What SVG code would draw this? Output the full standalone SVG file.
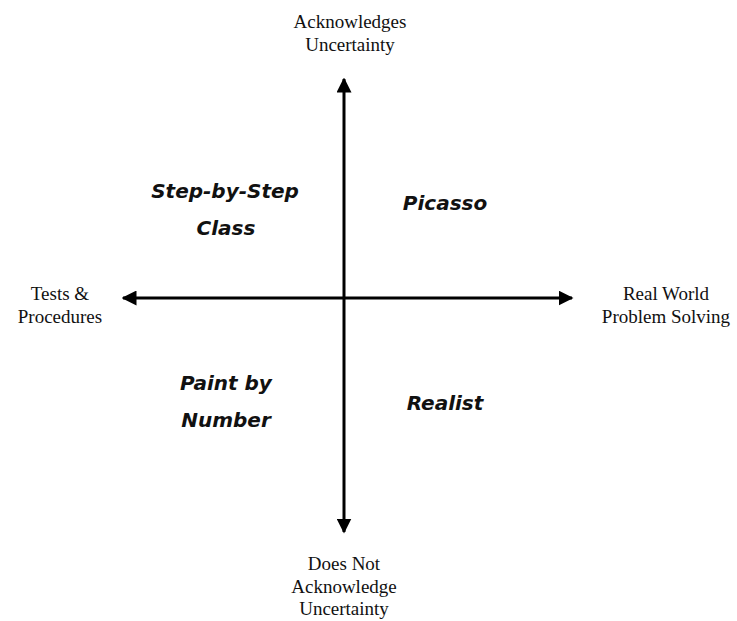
<svg xmlns="http://www.w3.org/2000/svg" width="737" height="621" viewBox="0 0 737 621">
<style>
.ax{font-family:"Liberation Serif","Times New Roman",serif;font-size:19px;fill:#111;text-anchor:middle}
.q{font-family:"DejaVu Sans","Liberation Sans",sans-serif;font-size:20px;font-weight:bold;font-style:italic;fill:#111;text-anchor:middle}
.ln{stroke:#000;stroke-width:3;fill:none}
</style>
<defs>
<marker id="ah" viewBox="0 0 10 10" refX="9" refY="5" markerWidth="5" markerHeight="5" markerUnits="strokeWidth" orient="auto-start-reverse">
<path d="M0,0 L10,5 L0,10 z" fill="#000"/>
</marker>
</defs>
<rect width="737" height="621" fill="#fff"/>
<g id="connectors">
<line class="ln" x1="344" y1="79" x2="344" y2="532" marker-start="url(#ah)" marker-end="url(#ah)"/>
<line class="ln" x1="123" y1="298" x2="572" y2="298" marker-start="url(#ah)" marker-end="url(#ah)"/>
</g>
<g id="top"><text class="ax" x="350" y="28">Acknowledges</text><text class="ax" x="350" y="51">Uncertainty</text></g>
<g id="left"><text class="ax" x="60" y="300">Tests &amp;</text><text class="ax" x="60" y="323">Procedures</text></g>
<g id="right"><text class="ax" x="666" y="300">Real World</text><text class="ax" x="666" y="323">Problem Solving</text></g>
<g id="bottom"><text class="ax" x="344" y="570">Does Not</text><text class="ax" x="344" y="593">Acknowledge</text><text class="ax" x="344" y="615">Uncertainty</text></g>
<g id="step"><text class="q" x="225" y="198">Step-by-Step</text><text class="q" x="226" y="235">Class</text></g>
<g id="picasso"><text class="q" x="445" y="210">Picasso</text></g>
<g id="paint"><text class="q" x="226" y="390">Paint by</text><text class="q" x="226" y="427">Number</text></g>
<g id="realist"><text class="q" x="445" y="410">Realist</text></g>
</svg>
